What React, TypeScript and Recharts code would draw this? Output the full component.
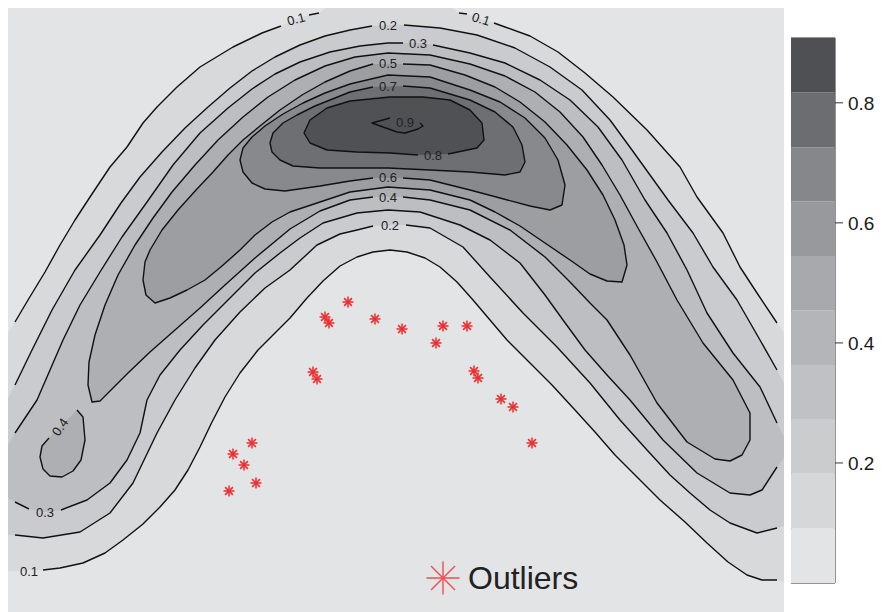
import React from 'react';
import { ScatterChart, Scatter, XAxis, YAxis, Legend, BarChart, Bar, ReferenceArea } from 'recharts';

type Pt = [number, number];

// Extent of the density grid (x to the right, y downwards)
const X_EXTENT: [number, number] = [8, 784];
const Y_EXTENT: [number, number] = [8, 612];

// ---- contour level 0.1 ----
const c01OuterA: Pt[] = [[15,322],[28,300],[45,272],[60,245],[75,220],[90,197],[110,167],[127,147],[143,123],[157,107],[177,87],[200,67],[233,47],[262,33],[281,26]];
const c01OuterB: Pt[] = [[309,15],[319,13]];
const c01OuterC: Pt[] = [[459,13],[467,14]];
const c01OuterD: Pt[] = [[494,23],[505,27],[530,36],[558,52],[585,73],[613,97],[647,130],[680,167],[697,197],[723,233],[740,267],[757,293],[777,323]];
const c01Inner: Pt[] = [[43,570],[60,568],[83,563],[105,553],[123,540],[143,524],[160,507],[175,490],[188,470],[200,447],[212,422],[225,397],[240,373],[258,350],[275,333],[290,318],[307,298],[323,281],[340,266],[357,257],[373,252],[390,250],[407,252],[425,258],[440,267],[457,282],[473,300],[490,320],[507,340],[530,363],[552,385],[575,410],[595,432],[615,455],[638,478],[660,500],[685,522],[707,543],[728,562],[747,575],[762,580],[777,580]];

// ---- contour level 0.2 ----
const c02OuterA: Pt[] = [[15,385],[32,350],[52,310],[75,270],[100,235],[121,203],[140,177],[162,152],[185,128],[208,107],[230,88],[252,71],[275,57],[300,45],[325,36],[350,30],[372,26]];
const c02OuterB: Pt[] = [[404,25],[440,28],[477,35],[515,48],[550,67],[582,90],[610,120],[632,150],[650,175],[668,200],[693,233],[713,267],[737,300],[760,340],[777,370]];
const c02InnerA: Pt[] = [[15,535],[43,538],[80,532],[110,513],[133,483],[145,458],[157,433],[175,400],[195,368],[215,340],[240,312],[265,288],[290,270],[317,245],[340,234],[357,230],[373,226]];
const c02InnerB: Pt[] = [[406,225],[430,228],[463,247],[490,277],[523,313],[557,347],[590,383],[620,420],[647,450],[670,475],[690,493],[710,510],[730,523],[757,533],[777,528]];

// ---- contour level 0.3 ----
const c03OuterA: Pt[] = [[15,433],[37,400],[50,370],[63,340],[80,305],[100,272],[122,237],[147,202],[173,165],[200,133],[228,108],[252,89],[275,74],[300,62],[330,52],[360,46],[388,43],[403,43]];
const c03OuterB: Pt[] = [[433,45],[470,53],[505,63],[540,80],[570,100],[598,127],[622,160],[645,200],[667,233],[687,270],[707,313],[733,353],[760,387],[777,423]];
const c03InnerA: Pt[] = [[15,502],[29,509]];
const c03InnerB: Pt[] = [[61,510],[87,500],[110,483],[127,460],[140,433],[147,400],[160,375],[180,350],[203,325],[228,300],[255,273],[280,253],[300,238],[323,223],[357,213],[388,210],[420,212],[460,225],[490,240],[520,263],[545,295],[563,320],[585,350],[607,375],[630,400],[663,440],[697,473],[730,493],[750,495],[762,490],[777,467]];

// ---- contour level 0.4 (arch and the small lower-left peak) ----
const c04Loop: Pt[] = [[403,197],[430,200],[470,210],[510,230],[545,257],[570,282],[590,303],[607,320],[630,355],[657,403],[687,442],[715,459],[730,461],[742,455],[750,440],[750,413],[733,380],[703,343],[677,300],[657,262],[638,228],[620,195],[602,165],[583,137],[560,112],[535,92],[505,76],[470,64],[430,55],[388,53],[355,57],[325,66],[295,80],[268,97],[243,117],[218,140],[195,165],[172,192],[153,218],[135,245],[118,275],[105,305],[95,335],[89,362],[88,385],[92,402],[100,401],[110,391],[128,373],[150,352],[175,330],[200,308],[225,285],[255,258],[290,229],[320,211],[350,200],[373,197]];
const c04Small: Pt[] = [[77,410],[83,417],[85,440],[81,460],[73,471],[62,477],[50,476],[43,469],[40,457],[42,446],[49,438]];

// ---- contour levels 0.5 – 0.9 ----
const c05Loop: Pt[] = [[403,64],[430,65],[465,75],[495,87],[520,102],[545,122],[567,145],[587,170],[603,195],[615,220],[624,245],[627,265],[622,282],[607,281],[590,274],[570,260],[545,243],[520,226],[495,212],[470,200],[430,190],[388,187],[350,192],[320,202],[290,212],[272,222],[255,235],[240,250],[222,266],[205,280],[187,290],[170,298],[155,303],[146,295],[143,280],[145,262],[150,250],[162,230],[178,210],[196,190],[213,172],[228,155],[243,140],[260,126],[280,110],[302,95],[325,82],[350,71],[373,64]];
const c06Loop: Pt[] = [[403,178],[430,180],[470,190],[500,198],[530,206],[550,210],[562,205],[565,185],[558,160],[545,138],[525,118],[500,102],[470,90],[430,77],[388,75],[350,84],[325,93],[303,103],[283,114],[265,126],[252,137],[243,148],[240,160],[243,172],[252,183],[265,189],[285,191],[320,186],[350,181],[373,178]];
const c07Loop: Pt[] = [[403,86],[430,88],[470,100],[495,112],[513,127],[522,145],[525,162],[520,172],[505,175],[470,172],[430,170],[388,168],[350,168],[320,168],[293,166],[280,160],[272,152],[270,143],[273,133],[283,123],[297,115],[315,106],[335,98],[350,92],[373,87]];
const c08Loop: Pt[] = [[418,155],[390,153],[357,152],[327,150],[310,143],[304,133],[310,120],[327,108],[350,101],[390,97],[423,97],[450,100],[470,110],[482,123],[484,140],[477,148],[448,154]];
const c09Loop: Pt[] = [[420,123],[423,126],[418,129],[405,133],[397,132],[372,123],[390,118]];

// Closing points along the grid border for the open (edge-touching) levels
const c01Closure = { start: [[8,333]] as Pt[], top: [[326,8],[452,8]] as Pt[], right: [[784,333],[784,582]] as Pt[], end: [[15,571],[8,571]] as Pt[] };
const c02Closure = { start: [[8,398]] as Pt[], right: [[784,383],[784,526]] as Pt[], end: [[8,535]] as Pt[] };
const c03Closure = { start: [[8,445]] as Pt[], right: [[784,437],[784,458]] as Pt[], end: [[8,498]] as Pt[] };

// Contour labels
const contourLabels = [
  { x: 296, y: 19, text: '0.1' },
  { x: 481, y: 19, text: '0.1' },
  { x: 388, y: 25, text: '0.2' },
  { x: 418, y: 43, text: '0.3' },
  { x: 388, y: 63, text: '0.5' },
  { x: 388, y: 86, text: '0.7' },
  { x: 405, y: 122, text: '0.9' },
  { x: 433, y: 155, text: '0.8' },
  { x: 388, y: 177, text: '0.6' },
  { x: 388, y: 197, text: '0.4' },
  { x: 390, y: 225, text: '0.2' },
  { x: 60, y: 427, text: '0.4' },
  { x: 45, y: 512, text: '0.3' },
  { x: 29, y: 571, text: '0.1' },
];
const LABEL_ANGLES = [-15, 17, 0, 0, 0, 0, 0, 0, 0, 0, 0, -55, 0, 0];

// Flagged observations
const outliers: Pt[] = [[229,491],[233,454],[244,465],[252,443],[256,483],[313,372],[317,379],[325,317],[329,323],[348,302],[375,319],[402,329],[436,343],[443,326],[467,326],[474,371],[478,378],[501,399],[513,407],[532,443]];

// Colour key
const levelBreaks = [0, 0.091, 0.182, 0.272, 0.363, 0.454, 0.545, 0.636, 0.726, 0.817, 0.908];
const keyTicks = [0.2, 0.4, 0.6, 0.8];

// ---- styles ----
const FONT = "'Liberation Sans', Arial, Helvetica, sans-serif";
const BG = '#e3e4e6';
const BAND_COLORS = ['#e3e4e6', '#d6d7d9', '#cbccce', '#c0c1c4', '#b4b5b8', '#a8a9ac', '#98999c', '#86878a', '#6c6d70', '#4f5053'];
const LEVEL_FILLS = ['#d8d9db', '#cacbce', '#bdbec1', '#aeafb2', '#9d9ea1', '#88898c', '#6e6f72', '#505154'];
const LINE_COLOR = '#111111';
const OUTLIER_COLOR = '#ee2b2b';

const rev = (p: Pt[]) => [...p].reverse();
const toPoints = (pts: Pt[]) => pts.map(([x, y]) => ({ x, y }));
const lbl = (i: number): Pt => [contourLabels[i].x, contourLabels[i].y];

// Each level: the stroked pieces and the filled region enclosed by the level
const LEVELS: { lines: Pt[][]; fills: Pt[][] }[] = [
  {
    lines: [c01OuterA, c01OuterB, c01OuterC, c01OuterD, c01Inner],
    fills: [[...c01Closure.start, ...c01OuterA, lbl(0), ...c01OuterB, ...c01Closure.top, ...c01OuterC, lbl(1), ...c01OuterD, ...c01Closure.right, ...rev(c01Inner), ...c01Closure.end]],
  },
  {
    lines: [c02OuterA, c02OuterB, c02InnerA, c02InnerB],
    fills: [[...c02Closure.start, ...c02OuterA, lbl(2), ...c02OuterB, ...c02Closure.right, ...rev(c02InnerB), lbl(10), ...rev(c02InnerA), ...c02Closure.end]],
  },
  {
    lines: [c03OuterA, c03OuterB, c03InnerA, c03InnerB],
    fills: [[...c03Closure.start, ...c03OuterA, lbl(3), ...c03OuterB, ...c03Closure.right, ...rev(c03InnerB), lbl(12), ...rev(c03InnerA), ...c03Closure.end]],
  },
  { lines: [c04Loop, c04Small], fills: [c04Loop, c04Small] },
  { lines: [c05Loop], fills: [c05Loop] },
  { lines: [c06Loop], fills: [c06Loop] },
  { lines: [c07Loop], fills: [c07Loop] },
  { lines: [c08Loop], fills: [c08Loop] },
  { lines: [c09Loop], fills: [] },
];

const labelData = contourLabels.map((l, i) => ({ ...l, angle: LABEL_ANGLES[i] }));

const keyRow = [
  levelBreaks.slice(1).reduce<Record<string, number | string>>(
    (row, hi, k) => ({ ...row, [`b${k}`]: +(hi - levelBreaks[k]).toFixed(3) }),
    { key: 'level' }
  ),
];

const Blank = () => <g />;

const Asterisk = (props: any) => {
  const { cx, cy } = props;
  const r = 5.5;
  const d = 3.9;
  return (
    <g stroke={OUTLIER_COLOR} strokeWidth={1.5}>
      <line x1={cx - r} y1={cy} x2={cx + r} y2={cy} />
      <line x1={cx} y1={cy - r} x2={cx} y2={cy + r} />
      <line x1={cx - d} y1={cy - d} x2={cx + d} y2={cy + d} />
      <line x1={cx - d} y1={cy + d} x2={cx + d} y2={cy - d} />
    </g>
  );
};

const ContourLabel = (props: any) => {
  const { cx, cy, payload } = props;
  return (
    <text
      x={cx}
      y={cy}
      textAnchor="middle"
      dominantBaseline="central"
      fontSize={13}
      fontFamily={FONT}
      fill="#222"
      transform={`rotate(${payload.angle} ${cx} ${cy})`}
    >
      {payload.text}
    </text>
  );
};

const OutlierLegend = (props: any) => {
  const items = (props.payload || []).filter((p: any) => p.value);
  return (
    <div>
      {items.map((p: any) => (
        <div key={p.value} style={{ display: 'flex', alignItems: 'center', height: 36 }}>
          <svg width={34} height={34} style={{ display: 'block' }}>
            <g stroke={OUTLIER_COLOR} strokeWidth={1.4} opacity={0.8}>
              <line x1={0.5} y1={17} x2={33.5} y2={17} />
              <line x1={17} y1={0.5} x2={17} y2={33.5} />
              <line x1={5} y1={5} x2={29} y2={29} />
              <line x1={5} y1={29} x2={29} y2={5} />
            </g>
          </svg>
          <span style={{ marginLeft: 8, fontSize: 32, lineHeight: '36px', fontFamily: FONT, color: '#222' }}>{p.value}</span>
        </div>
      ))}
    </div>
  );
};

export default function App() {
  return (
    <div style={{ position: 'relative', width: 868, height: 604 }}>
      <div style={{ position: 'absolute', left: 0, top: 0 }}>
        <ScatterChart width={776} height={604} margin={{ top: 0, right: 0, bottom: 0, left: 0 }} style={{ background: BG }}>
          <XAxis type="number" dataKey="x" domain={X_EXTENT} hide allowDataOverflow />
          <YAxis type="number" dataKey="y" domain={Y_EXTENT} reversed hide allowDataOverflow />
          {LEVELS.flatMap((lv, i) =>
            lv.fills.map((poly, j) => (
              <Scatter
                key={`fill-${i}-${j}`}
                data={toPoints(poly)}
                shape={Blank}
                line={{ fill: LEVEL_FILLS[i], stroke: 'none' }}
                lineJointType="linear"
                legendType="none"
                isAnimationActive={false}
              />
            ))
          )}
          {LEVELS.flatMap((lv, i) =>
            lv.lines.map((seg, j) => (
              <Scatter
                key={`line-${i}-${j}`}
                data={toPoints(seg)}
                shape={Blank}
                line={{ stroke: LINE_COLOR, strokeWidth: 1.4, fill: 'none', strokeLinejoin: 'round' }}
                lineJointType="linear"
                legendType="none"
                isAnimationActive={false}
              />
            ))
          )}
          <Scatter data={labelData} shape={ContourLabel} legendType="none" isAnimationActive={false} />
          <Scatter name="Outliers" data={toPoints(outliers)} shape={Asterisk} fill={OUTLIER_COLOR} isAnimationActive={false} />
          <Legend
            layout="vertical"
            align="center"
            verticalAlign="middle"
            content={OutlierLegend}
            wrapperStyle={{ left: 418, top: 552, width: 180, height: 36 }}
          />
        </ScatterChart>
      </div>
      <div style={{ position: 'absolute', left: 783, top: 0 }}>
        <BarChart
          width={93}
          height={604}
          data={keyRow}
          margin={{ top: 30, right: 0, bottom: 29, left: 0 }}
          barCategoryGap={0}
          barGap={0}
        >
          <XAxis dataKey="key" hide />
          <YAxis
            orientation="right"
            type="number"
            domain={[0, 0.908]}
            ticks={keyTicks}
            width={49}
            tickSize={8}
            tickMargin={5}
            axisLine={false}
            tickLine={{ stroke: '#333' }}
            tick={{ fontSize: 19, fill: '#1a1a1a', fontFamily: FONT }}
            allowDataOverflow
          />
          {BAND_COLORS.map((c, k) => (
            <Bar key={k} dataKey={`b${k}`} stackId="key" fill={c} isAnimationActive={false} />
          ))}
          <ReferenceArea y1={0} y2={0.908} fill="none" stroke="#2b2b2b" strokeWidth={1} ifOverflow="visible" />
        </BarChart>
      </div>
    </div>
  );
}
